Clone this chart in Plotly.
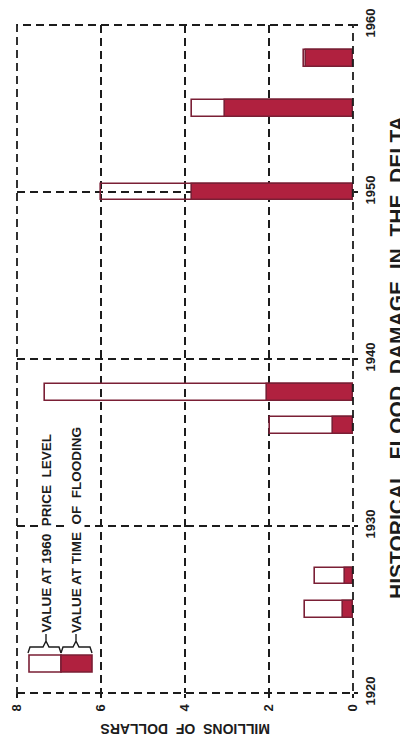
import plotly.graph_objects as go

# ---- data ----
years = [1925, 1927, 1936, 1938, 1950, 1955, 1958]
value_1960_price = [1.15, 0.91, 1.98, 7.33, 6.0, 3.84, 1.17]
value_time_of_flood = [0.25, 0.20, 0.48, 2.05, 3.83, 3.05, 1.12]

year_ticks = [1920, 1930, 1940, 1950, 1960]
money_ticks = [0, 2, 4, 6, 8]

title_text = "HISTORICAL\u00a0 FLOOD\u00a0 DAMAGE\u00a0 IN\u00a0 THE\u00a0 DELTA"
x_title = "MILLIONS\u00a0 OF\u00a0 DOLLARS"
legend_1960 = "VALUE AT 1960\u00a0 PRICE\u00a0 LEVEL"
legend_time = "VALUE AT TIME\u00a0 OF\u00a0 FLOODING"

# ---- style ----
RED = "#b0213f"
OUTLINE = "#7a1f35"
INK = "#1c1c1c"
FONT = "Liberation Sans, Arial, sans-serif"
OFF = 8  # page body margin
W, H = 408 - OFF, 744 - OFF
# target plot box in screenshot pixels: x 17..353, y 25..693
L = 17 - OFF
R = W - (353 - OFF)
T = 25 - OFF
B = H - (693 - OFF)
PW, PH = W - L - R, H - T - B


def px(x):  # screenshot pixel -> paper x
    return (x - OFF - L) / PW


def py(y):  # screenshot pixel -> paper y
    return (H - B - (y - OFF)) / PH


fig = go.Figure()
fig.add_trace(go.Bar(
    y=years, x=value_1960_price, orientation="h", width=1.0,
    marker=dict(color="rgba(255,255,255,0)", line=dict(color=OUTLINE, width=1.6)),
    name="Value at 1960 price level", showlegend=False,
))
fig.add_trace(go.Bar(
    y=years, x=value_time_of_flood, orientation="h", width=1.0,
    marker=dict(color=RED, line=dict(color=OUTLINE, width=1.6)),
    name="Value at time of flooding", showlegend=False,
))

grid = dict(showgrid=True, gridcolor=INK, gridwidth=1.8, griddash="8px,5px",
            zeroline=False, showline=False, automargin=False,
            ticks="outside", ticklen=4, tickwidth=1.5, tickcolor=INK,
            tickfont=dict(family=FONT, size=13, color=INK, weight="bold"))

fig.update_xaxes(range=[8, 0], tickvals=money_ticks, ticktext=[str(v) for v in money_ticks],
                 tickangle=-90, ticklabelstandoff=1, **grid)
fig.update_yaxes(range=[1920, 1960], tickvals=year_ticks, ticktext=[str(v) for v in year_ticks],
                 side="right", tickangle=-90, ticklabelstandoff=1, **grid)

shapes = [
    dict(type="rect", xref="paper", yref="paper", x0=0, x1=1, y0=0, y1=1,
         line=dict(color=INK, width=1.8, dash="8px,5px"), layer="above"),
    # legend sample
    dict(type="rect", xref="paper", yref="paper", x0=px(29), x1=px(61), y0=py(672), y1=py(655),
         fillcolor="white", line=dict(color=OUTLINE, width=1.6)),
    dict(type="rect", xref="paper", yref="paper", x0=px(61), x1=px(92), y0=py(672), y1=py(655),
         fillcolor=RED, line=dict(color=OUTLINE, width=1.6)),
]


def brace(x0, x1, tip_x):
    pts = [(x0, 653), (x0 + 2, 647), (tip_x - 3, 647), (tip_x, 641),
           (tip_x, 634), (tip_x, 641), (tip_x + 3, 647), (x1 - 2, 647), (x1, 653)]
    d = "M " + " L ".join(f"{px(a):.5f},{py(b):.5f}" for a, b in pts)
    return dict(type="path", xref="paper", yref="paper", path=d,
                line=dict(color=INK, width=1.4))


shapes.append(brace(28, 61, 46))
shapes.append(brace(61, 92, 76))
fig.update_layout(shapes=shapes)

ann = [
    dict(text=title_text, x=px(396), y=py(358), xref="paper", yref="paper",
         showarrow=False, textangle=-90, xanchor="center", yanchor="middle",
         font=dict(family=FONT, size=21, color=INK, weight="bold")),
    dict(text=x_title, x=px(185), y=py(729), xref="paper", yref="paper",
         showarrow=False, textangle=180, xanchor="center", yanchor="middle",
         font=dict(family=FONT, size=14, color=INK, weight="bold")),
    dict(text=legend_1960, x=px(46), y=py(634), xref="paper", yref="paper",
         showarrow=False, textangle=-90, xanchor="center", yanchor="bottom",
         bgcolor="white", borderpad=0,
         font=dict(family=FONT, size=13.5, color=INK, weight="bold")),
    dict(text=legend_time, x=px(76), y=py(634), xref="paper", yref="paper",
         showarrow=False, textangle=-90, xanchor="center", yanchor="bottom",
         bgcolor="white", borderpad=0,
         font=dict(family=FONT, size=13.5, color=INK, weight="bold")),
]

fig.update_layout(
    width=W, height=H,
    margin=dict(l=L, r=R, t=T, b=B, autoexpand=False),
    paper_bgcolor="white", plot_bgcolor="white",
    barmode="overlay", bargap=0,
    annotations=ann,
    showlegend=False,
)

fig.write_html("out.html")
